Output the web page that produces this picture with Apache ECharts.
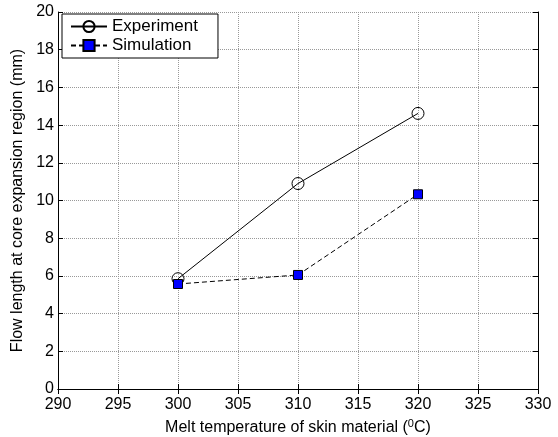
<!DOCTYPE html>
<html><head><meta charset="utf-8">
<script src="https://cdn.jsdelivr.net/npm/echarts@6/dist/echarts.min.js"></script>
<style>html,body{margin:0;padding:0;background:#fff}#c{width:558px;height:437px}</style>
</head><body><div id="c"></div>
<script>
const temps = [300, 310, 320];
const experiment = [5.85, 10.9, 14.62];
const simulation = [5.57, 6.05, 10.33];
const xTicks = [290, 295, 300, 305, 310, 315, 320, 325, 330];
const yTicks = [0, 2, 4, 6, 8, 10, 12, 14, 16, 18, 20];

const font = 'Liberation Sans, Arial, sans-serif';
const chart = echarts.init(document.getElementById('c'));
const grid = {left: 58, right: 20, top: 12, bottom: 48, containLabel: false, outerBoundsMode: 'none'};
const axisCommon = {
  axisLine: {show: true, lineStyle: {color: '#000', width: 1}},
  axisTick: {show: true, inside: true, length: 5, lineStyle: {color: '#000'}},
  splitLine: {show: true, lineStyle: {color: '#999', type: [1, 1], width: 1}},
};
chart.setOption({
  animation: false,
  grid: grid,
  legend: {
    left: 62, top: 14, orient: 'vertical', itemGap: 2, itemWidth: 36, itemHeight: 14,
    backgroundColor: '#fff', borderColor: '#000', borderWidth: 1, padding: [4, 20, 4, 8],
    textStyle: {fontFamily: font, fontSize: 17, color: '#000'},
    data: ['Experiment', 'Simulation']
  },
  xAxis: [{
    type: 'value', min: 290, max: 330, interval: 5,
    ...axisCommon,
    axisLabel: {fontFamily: font, fontSize: 16, color: '#000', margin: 8},
    name: 'Melt temperature of skin material ({s|0}C)',
    nameLocation: 'middle', nameGap: 29,
    nameTextStyle: {fontFamily: font, fontSize: 16, color: '#000',
      rich: {s: {fontFamily: font, fontSize: 11, color: '#000', verticalAlign: 'top', padding: [0, 0, 8, 0]}}}
  }, {
    type: 'value', min: 290, max: 330, interval: 5, position: 'top',
    axisLine: {show: true, lineStyle: {color: '#000'}},
    axisTick: {show: true, inside: true, length: 5, lineStyle: {color: '#000'}},
    axisLabel: {show: false}, splitLine: {show: false}
  }],
  yAxis: [{
    type: 'value', min: 0, max: 20, interval: 2,
    ...axisCommon,
    axisLabel: {fontFamily: font, fontSize: 16, color: '#000', margin: 4},
    name: 'Flow length at core expansion region (mm)',
    nameLocation: 'middle', nameGap: 29,
    nameTextStyle: {fontFamily: font, fontSize: 16, color: '#000'}
  }, {
    type: 'value', min: 0, max: 20, interval: 2, position: 'right',
    axisLine: {show: true, lineStyle: {color: '#000'}},
    axisTick: {show: true, inside: true, length: 5, lineStyle: {color: '#000'}},
    axisLabel: {show: false}, splitLine: {show: false}
  }],
  series: [{
    name: 'Experiment', type: 'line',
    data: temps.map((t, i) => [t, experiment[i]]),
    symbol: 'circle', symbolSize: 12, showAllSymbol: true,
    lineStyle: {color: '#000', width: 1},
    itemStyle: {color: 'rgba(255,255,255,0)', borderColor: '#000', borderWidth: 1}
  }, {
    name: 'Simulation', type: 'line',
    data: temps.map((t, i) => [t, simulation[i]]),
    symbol: 'rect', symbolSize: 9,
    lineStyle: {color: '#000', width: 1, type: [5, 3]},
    itemStyle: {color: '#0000ff', borderColor: '#000', borderWidth: 1}
  }]
});
</script></body></html>
